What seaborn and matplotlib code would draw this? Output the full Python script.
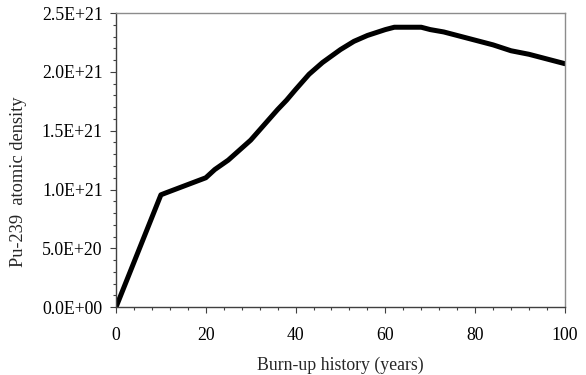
import matplotlib
matplotlib.use("Agg")
import matplotlib.pyplot as plt
import matplotlib.ticker as mticker
import seaborn as sns
import pandas as pd

# Set style
sns.set_theme(style="white")
plt.rcParams['font.family'] = ['Liberation Serif', 'DejaVu Serif']

# Pu-239 atomic density over burn-up history
years = [0, 10, 11, 20, 22, 25, 30, 33, 36, 38, 40, 43, 46, 50, 53, 56,
         60, 62, 68, 70, 73, 76, 80, 84, 88, 92, 96, 100]
density_e21 = [0.0, 0.955, 0.97, 1.10, 1.17, 1.25, 1.42, 1.55, 1.68, 1.76,
               1.85, 1.98, 2.08, 2.19, 2.26, 2.31, 2.36, 2.38, 2.38, 2.36,
               2.34, 2.31, 2.27, 2.23, 2.18, 2.15, 2.11, 2.07]

df = pd.DataFrame({'years': years, 'density': [v * 1e21 for v in density_e21]})

fig = plt.figure(figsize=(5.86, 3.75), dpi=100)
ax = fig.add_axes([0.198, 0.181, 0.766, 0.784])

sns.lineplot(data=df, x='years', y='density', ax=ax, color='black',
             linewidth=3.6, solid_joinstyle='round', solid_capstyle='round')

ax.set_xlim(0, 100)
ax.set_ylim(0, 2.5e21)
ax.xaxis.set_major_locator(mticker.MultipleLocator(20))
ax.xaxis.set_minor_locator(mticker.MultipleLocator(4))
ax.yaxis.set_major_locator(mticker.MultipleLocator(5e20))
ax.yaxis.set_minor_locator(mticker.MultipleLocator(1e20))
ax.yaxis.set_major_formatter(mticker.FuncFormatter(lambda v, p: f"{v:.1E}"))

ax.tick_params(which='major', direction='out', length=4.5, width=0.8,
               color='#404040', labelsize=12.8, labelcolor='black', pad=5)
ax.tick_params(which='minor', direction='out', length=2.5, width=0.8,
               color='#404040')
ax.tick_params(axis='both', which='both', bottom=True, left=True, top=False, right=False)
ax.tick_params(axis='x', which='major', pad=10)

for side in ['left', 'bottom']:
    ax.spines[side].set_color('#404040')
    ax.spines[side].set_linewidth(1.0)
for side in ['top', 'right']:
    ax.spines[side].set_color('#8c8c8c')
    ax.spines[side].set_linewidth(1.0)

ax.set_xlabel('Burn-up history (years)', fontsize=12.8, labelpad=9)
ax.set_ylabel('Pu-239  atomic density', fontsize=13.2)
ax.yaxis.set_label_coords(-0.198, 0.425)
ax.grid(False)

fig.savefig('out.png', dpi=100)
plt.close(fig)
